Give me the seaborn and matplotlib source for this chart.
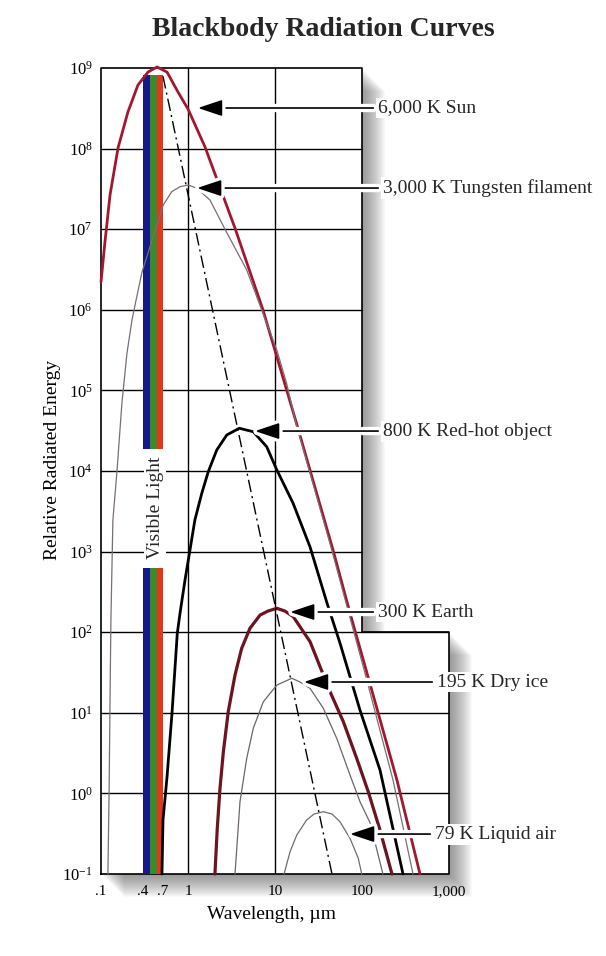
"""
Blackbody radiation curves (log-log), redrawn from a textbook figure
"""

import numpy as np
import pandas as pd
import matplotlib
matplotlib.use("Agg")
import matplotlib.pyplot as plt
import matplotlib.patheffects as pe
from matplotlib.transforms import offset_copy
from matplotlib.ticker import NullLocator
import seaborn as sns

# curves: wavelength (um) and relative radiated energy
sun_wl = [0.1, 0.111, 0.127, 0.157, 0.204, 0.266, 0.347, 0.440, 0.574, 0.767, 1.0,
          1.568, 2.21, 3.47, 7.28, 17.9, 46.4, 72.8, 114, 252, 464]
sun_e = [2.21e6, 6.93e6, 2.66e7, 1.02e8, 2.85e8, 6.15e8, 8.9e8, 1.03e9, 8.9e8, 5.04e8, 3.10e8,
         1.05e8, 3.85e7, 1.03e7, 9.95e5, 3.72e4, 1.05e3, 173, 31.2, 1.47, 0.1]

tung_wl = [0.120, 0.124, 0.127, 0.130, 0.137, 0.153, 0.174, 0.199, 0.227, 0.253, 0.296,
           0.520, 0.650, 0.809, 1.01, 1.26, 1.79, 2.66, 4.73, 7.03, 10.5, 13.6, 17.4,
           44.9, 108, 227, 386]
tung_e = [0.1, 1.10, 14.4, 142, 2.47e3, 1.03e4, 6.98e4, 2.91e5, 7.47e5, 1.32e6, 2.94e6,
          2.0e7, 2.92e7, 3.37e7, 3.53e7, 3.22e7, 2.30e7, 1.0e7, 3.12e6, 9.95e5, 3.17e5,
          1.22e5, 3.94e4, 1.05e3, 31.2, 1.47, 0.1]

hot_wl = [0.502, 0.516, 0.574, 0.655, 0.753, 0.809, 0.924, 1.054, 1.20, 1.44, 1.71, 2.14,
          2.79, 3.89, 5.63, 8.03, 10.5, 16.1, 25.3, 39.6, 55.8, 94.8, 161, 296]
hot_e = [0.1, 0.468, 1.60, 9.95, 96.8, 171, 445, 1.05e3, 2.47e3, 5.29e3, 9.8e3, 1.82e4,
         2.80e4, 3.39e4, 3.07e4, 2.0e4, 1.03e4, 4.01e3, 1.14e3, 230, 73.5, 10.8,
         1.95, 0.1]

earth_wl = [2.04, 2.17, 2.333, 2.55, 2.90, 3.47, 4.14, 5.16, 6.73, 8.32, 10.5, 13.0, 16.2,
            25.3, 42.9, 61.0, 86.9, 118, 161, 221]
earth_e = [0.1, 0.369, 1.16, 3.29, 10.3, 29.4, 63.1, 112, 163, 183, 198, 183, 156,
           76.2, 18.3, 7.76, 2.72, 1.05, 0.351, 0.1]

ice_wl = [3.47, 3.96, 4.73, 5.63, 7.34, 10.5, 15.6, 19.4, 25.3, 35.9, 51.2, 72.8, 94.8,
          124, 174]
ice_e = [0.1, 0.789, 2.72, 6.43, 13.7, 22.1, 26.8, 24.1, 20.1, 11.4, 4.83, 1.69, 0.789,
         0.430, 0.1]

air_wl = [12.7, 14.9, 17.8, 23.1, 28.1, 35.9, 45.2, 55.8, 72.8, 90.6, 99.3]
air_e = [0.1, 0.189, 0.305, 0.468, 0.555, 0.593, 0.555, 0.446, 0.277, 0.157, 0.1]

# Wien displacement line (dash-dot) end points
wien_wl = [0.516, 45.2]
wien_e = [7.9e8, 0.1]

# visible band: stripe edges and vertical pieces
band_edges = [0.304, 0.366, 0.441, 0.516]
band_colors = ["#16198a", "#3b8a2e", "#e2371f"]
band_spans = [(0.1, 630), (1.9e4, 8.2e8)]

labels = ["6,000 K Sun", "3,000 K Tungsten filament", "800 K Red-hot object",
          "300 K Earth", "195 K Dry ice", "79 K Liquid air"]
arrow_tips = [(1.30, 3.19e8), (1.27, 3.24e7), (5.89, 3.13e4), (14.9, 178), (21.5, 24.1), (72.8, 0.313)]
label_x = [153, 174, 174, 153, 728, 690]

x_ticks = [0.1, 0.304, 0.516, 1, 10, 100, 1000]
x_ticklabels = [".1", ".4", ".7", "1", "10", "100", "1,000"]
y_exps = list(range(-1, 10))

# L-shaped frame of the plot (upper part stops at 100 um)
box_x = [0.1, 1000, 1000, 100, 100, 0.1, 0.1]
box_y = [0.1, 0.1, 100, 100, 1e9, 1e9, 0.1]

sns.set_theme(style="white")
plt.rcParams["font.family"] = ["Liberation Serif", "DejaVu Serif"]
plt.rcParams["mathtext.fontset"] = "custom"
plt.rcParams["mathtext.rm"] = "Liberation Serif"
plt.rcParams["mathtext.it"] = "Liberation Serif:italic"

fig = plt.figure(figsize=(6.06, 9.56), dpi=100, facecolor="white")
ax = fig.add_axes([101 / 606, 82 / 956, 348 / 606, 806 / 956])
ax.set_facecolor("none")
ax.set_xscale("log")
ax.set_yscale("log")
ax.set_xlim(0.1, 1000)
ax.set_ylim(0.1, 1e9)
for s in ax.spines.values():
    s.set_visible(False)

# soft drop shadow behind the frame
for k in range(1, 24):
    tr = offset_copy(ax.transData, fig=fig, x=k, y=-k, units="dots")
    ax.fill(box_x, box_y, color="0.3", alpha=0.03, lw=0, transform=tr, zorder=0.2, clip_on=False)
ax.fill(box_x, box_y, color="white", lw=0, zorder=0.5, clip_on=False)

# grid and frame
for e in range(0, 9):
    xr = 1000 if e <= 2 else 100
    ax.plot([0.1, xr], [10.0 ** e, 10.0 ** e], color="black", lw=1.0, zorder=1)
for v in [1, 10]:
    ax.plot([v, v], [0.1, 1e9], color="black", lw=1.0, zorder=1)
ax.plot(box_x, box_y, color="black", lw=1.2, zorder=1, clip_on=False)

# curves
curves = [
    (sun_wl, sun_e, "#a3172e", 2.0),
    (tung_wl, tung_e, "#7a6f72", 0.9),
    (hot_wl, hot_e, "black", 2.0),
    (earth_wl, earth_e, "#6c1420", 2.3),
    (ice_wl, ice_e, "#6f6466", 0.9),
    (air_wl, air_e, "#6e6e6e", 0.9),
]
for wl, en, col, lw in curves:
    df = pd.DataFrame({"wl": wl, "e": en})
    sns.lineplot(data=df, x="wl", y="e", ax=ax, color=col, linewidth=lw, sort=False,
                 estimator=None, zorder=3, clip_on=False, legend=False)

ax.plot(wien_wl, wien_e, color="black", lw=1.0, linestyle=(0, (9, 3, 1.5, 3)), zorder=3)

# visible light stripes
for i, col in enumerate(band_colors):
    for lo, hi in band_spans:
        ax.fill_between([band_edges[i], band_edges[i + 1]], lo, hi, color=col, lw=0, zorder=2.5)
ax.text(0.418, 10 ** 3.54, "Visible Light", rotation=90, ha="center", va="center",
        fontsize=14, zorder=6,
        bbox=dict(boxstyle="square,pad=0.15", fc="white", ec="none"))

# labels with arrows
for txt, tip, lx in zip(labels, arrow_tips, label_x):
    ann = ax.annotate(txt, xy=tip, xytext=(lx, tip[1]), ha="left", va="center", fontsize=14,
                      zorder=6, annotation_clip=False,
                      bbox=dict(boxstyle="square,pad=0.1", fc="white", ec="none"),
                      arrowprops=dict(arrowstyle="-|>,head_length=1.5,head_width=0.5",
                                      mutation_scale=10, color="black", lw=1.2,
                                      shrinkA=2, shrinkB=0))
    ann.arrow_patch.set_path_effects([pe.withStroke(linewidth=6, foreground="white")])
    ann.arrow_patch.set_zorder(4)

# ticks
ax.set_xticks(x_ticks)
ax.set_xticklabels(x_ticklabels)
ax.xaxis.set_minor_locator(NullLocator())
ax.set_yticks([10.0 ** e for e in y_exps])
ax.set_yticklabels([r"$\mathrm{10^{%d}}$" % e for e in y_exps])
ax.yaxis.set_minor_locator(NullLocator())
ax.tick_params(axis="both", which="major", direction="in", length=4, width=1,
               color="black", labelsize=11, labelcolor="black")
ax.tick_params(axis="x", pad=8)
ax.tick_params(axis="y", pad=6, labelsize=12)

ax.set_xlabel("Wavelength, \u00b5m", fontsize=14, color="black")
ax.xaxis.set_label_coords(0.491, -0.040)
ax.set_ylabel("Relative Radiated Energy", fontsize=14, color="black")
ax.yaxis.set_label_coords(-0.115, 0.514)

fig.text(323 / 606, 1 - 30 / 956, "Blackbody Radiation Curves", ha="center", va="center",
         fontsize=20, fontweight="bold")

fig.savefig("out.png", dpi=100, facecolor="white")
